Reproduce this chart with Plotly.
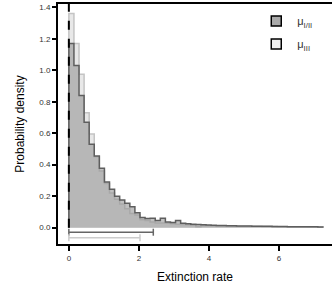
import numpy as np
import plotly.graph_objects as go

# ---- data ----
bin_width = 0.145
dens_12 = [1.17, 1.03, 0.84, 0.67, 0.53, 0.455, 0.377, 0.29, 0.244, 0.20,
           0.176, 0.155, 0.133, 0.095, 0.065, 0.058, 0.06, 0.045, 0.06, 0.035,
           0.032, 0.045, 0.028, 0.025, 0.022, 0.02, 0.018, 0.016, 0.015, 0.014,
           0.013, 0.012, 0.012, 0.011, 0.010, 0.010, 0.009, 0.009, 0.008, 0.008,
           0.007, 0.007, 0.007, 0.006, 0.006, 0.006, 0.005, 0.005, 0.005, 0.004]
dens_3 = [1.36, 1.17, 0.975, 0.73, 0.595, 0.45, 0.36, 0.28, 0.22, 0.18,
          0.15, 0.12, 0.09, 0.08, 0.05, 0.045, 0.035, 0.03, 0.03, 0.028,
          0.025, 0.022, 0.02, 0.018, 0.015, 0.006, 0.012, 0.012, 0.011, 0.011,
          0.010, 0.010, 0.009, 0.009, 0.009, 0.008, 0.008, 0.008, 0.007, 0.007,
          0.007, 0.006, 0.006, 0.006, 0.005, 0.005, 0.005, 0.004, 0.004, 0.004]
interval_12 = [0.0, 2.41]
interval_3 = [0.0, 2.03]
interval_y = [-0.029, -0.064]
ref_x = 0.0
x_ticks = [0, 2, 4, 6]
y_ticks = [0.0, 0.2, 0.4, 0.6, 0.8, 1.0, 1.2, 1.4]
names = ["μ<sub>I/II</sub>", "μ<sub>III</sub>"]


def step_xy(dens):
    edges = list(np.arange(len(dens) + 1) * bin_width)
    xs = [edges[0]] + edges
    ys = [0.0] + list(dens) + [0.0]
    return xs, ys


fig = go.Figure()

x3, y3 = step_xy(dens_3)
fig.add_trace(go.Scatter(x=x3, y=y3, mode="lines", line_shape="hv",
                         fill="tozeroy", fillcolor="#e8e8e8",
                         line=dict(color="#c4c4c4", width=1.5),
                         showlegend=False, hoverinfo="skip"))
x12, y12 = step_xy(dens_12)
fig.add_trace(go.Scatter(x=x12, y=y12, mode="lines", line_shape="hv",
                         fill="tozeroy", fillcolor="rgba(150,150,150,0.6)",
                         line=dict(color="#5e5e5e", width=1.5),
                         showlegend=False, hoverinfo="skip"))

# reference dashed line at zero
fig.add_trace(go.Scatter(x=[ref_x, ref_x], y=[0, 1.43], mode="lines",
                         line=dict(color="black", width=2, dash="dash"),
                         showlegend=False, hoverinfo="skip"))

# intervals
fig.add_trace(go.Scatter(x=interval_12, y=[interval_y[0]] * 2, mode="lines+markers",
                         line=dict(color="#666666", width=1.5),
                         marker=dict(symbol="line-ns-open", size=5,
                                     line=dict(color="#666666", width=1.5)),
                         showlegend=False, hoverinfo="skip"))
fig.add_trace(go.Scatter(x=interval_3, y=[interval_y[1]] * 2, mode="lines+markers",
                         line=dict(color="#cccccc", width=1.5),
                         marker=dict(symbol="line-ns-open", size=5,
                                     line=dict(color="#cccccc", width=1.5)),
                         showlegend=False, hoverinfo="skip"))

# legend entries
for nm, col, grp in zip(names, ["#aaaaaa", "#eeeeee"], ["a", "b"]):
    fig.add_trace(go.Scatter(x=[None], y=[None], mode="markers", name=nm,
                             legendgroup=grp,
                             marker=dict(symbol="square", size=10, color=col,
                                         line=dict(color="black", width=1.5))))

fig.update_layout(
    width=332, height=302,
    margin=dict(l=58, r=0, t=4, b=58),
    paper_bgcolor="white", plot_bgcolor="white",
    font=dict(family="Liberation Sans, Arial, sans-serif", color="black"),
    legend=dict(x=0.72, y=0.99, xanchor="left", yanchor="top",
                bgcolor="rgba(0,0,0,0)", font=dict(size=11, color="#333333"),
                tracegroupgap=4, itemwidth=32),
    xaxis=dict(range=[-0.31, 7.51], tickvals=x_ticks, ticks="outside",
               ticklen=5, tickwidth=1.5, tickcolor="black", automargin=False,
               showline=True, linecolor="black", linewidth=2, mirror=True,
               showgrid=False, zeroline=False,
               tickfont=dict(size=8, color="#333333"),
               title=dict(text="Extinction rate", font=dict(size=12), standoff=11)),
    yaxis=dict(range=[-0.104, 1.421], tickvals=y_ticks, tickformat=".1f",
               ticks="outside", ticklen=4, tickwidth=1.5, tickcolor="black",
               automargin=False,
               showline=True, linecolor="black", linewidth=2,
               showgrid=False, zeroline=False,
               tickfont=dict(size=8, color="#333333"),
               title=dict(text="Probability density", font=dict(size=12), standoff=12)),
)

fig.write_html("out.html", config={"displayModeBar": False},
               post_script="document.body.style.margin='0';document.body.style.overflow='hidden';")
